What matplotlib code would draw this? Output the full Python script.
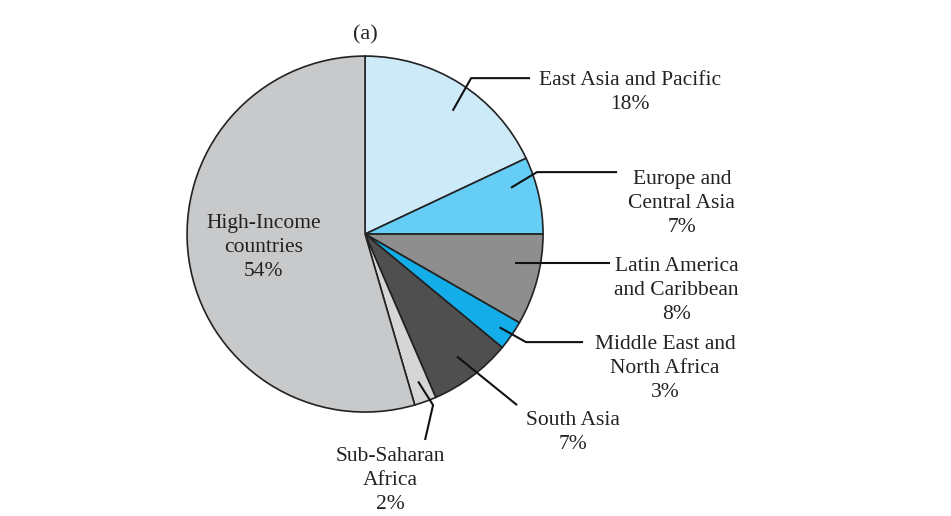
import numpy as np
import matplotlib
matplotlib.use("Agg")
import matplotlib.pyplot as plt

# shares by region, clockwise from 12 o'clock
regions = ["East Asia and Pacific", "Europe and Central Asia", "Latin America and Caribbean",
           "Middle East and North Africa", "South Asia", "Sub-Saharan Africa",
           "High-Income countries"]
# wedge sizes as drawn in the picture (percent)
shares = [18, 7, 8.3, 2.7, 7.5, 2.0, 54.5]
labels = ["East Asia and Pacific\n18%", "Europe and\nCentral Asia\n7%",
          "Latin America\nand Caribbean\n8%", "Middle East and\nNorth Africa\n3%",
          "South Asia\n7%", "Sub-Saharan\nAfrica\n2%", "High-Income\ncountries\n54%"]
colors = ["#cdeaf9", "#66cef5", "#8e8e8e", "#13aee9", "#4f4f4f", "#d6d6d6", "#c8c9cb"]

# label layout (data units, pie radius = 1)
text_pos = [(1.49, 0.793), (1.78, 0.173), (1.75, -0.317), (1.685, -0.757),
            (1.17, -1.117), (0.14, -1.385), (-0.57, -0.077)]
anchor_r = [0.85, 0.86, 0.86, 0.92, 0.86, 0.88, None]
anchor_dang = [-3, 5, 4, 0, 0, 0, 0]
elbows = [[(0.596, 0.876), (0.927, 0.876)],
          [(0.966, 0.348), (1.416, 0.348)],
          [(1.376, None)],
          [(0.904, -0.607), (1.225, -0.607)],
          [(0.854, -0.961)],
          [(0.382, -0.961), (0.337, -1.157)],
          []]

plt.rcParams["font.family"] = ["Liberation Serif", "DejaVu Serif"]

fig = plt.figure(figsize=(9.51, 5.16), dpi=100)
ax = fig.add_axes([0, 0, 1, 1])
wedges, _ = ax.pie(shares, colors=colors, startangle=90, counterclock=False,
                   radius=1.0, wedgeprops=dict(edgecolor="#222222", linewidth=1.2))

for w, lab, tp, r, da, pts in zip(wedges, labels, text_pos, anchor_r, anchor_dang, elbows):
    ax.text(tp[0], tp[1], lab, ha="center", va="center", fontsize=15.5, color="#222222",
            linespacing=1.35)
    if r is None:
        continue
    ang = np.deg2rad((w.theta1 + w.theta2) / 2 + da)
    xs = [r * np.cos(ang)]
    ys = [r * np.sin(ang)]
    for px, py in pts:
        xs.append(px)
        ys.append(ys[-1] if py is None else py)
    ax.plot(xs, ys, color="#111111", lw=1.5, solid_capstyle="butt")

ax.text(0, 1.12, "(a)", ha="center", va="center", fontsize=16, color="#222222")

ax.set_xlim(-2.051, 3.292)
ax.set_ylim(-1.584, 1.315)
ax.set_aspect("equal")
ax.axis("off")
fig.savefig("out.png", dpi=100)
